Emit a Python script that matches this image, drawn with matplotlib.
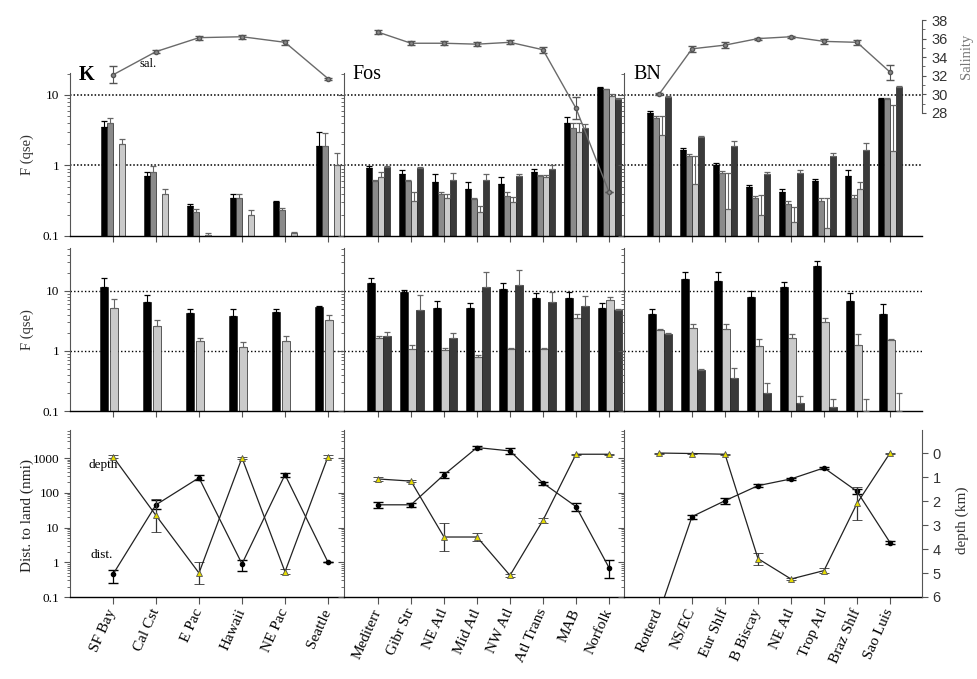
import matplotlib.pyplot as plt
import numpy as np
from matplotlib.ticker import FixedLocator, LogLocator, NullFormatter, NullLocator

plt.rcParams['font.family'] = ['Liberation Serif', 'DejaVu Serif']
plt.rcParams['font.size'] = 9

# ---- sites along x, one list per group
k_sites = ['SF Bay', 'Cal Cst', 'E Pac', 'Hawaii', 'NE Pac', 'Seattle']
fos_sites = ['Mediterr', 'Gibr Str', 'NE Atl', 'Mid Atl', 'NW Atl', 'Atl Trans', 'MAB', 'Norfolk']
bn_sites = ['Rotterd', 'NS/EC', 'Eur Shlf', 'B Biscay', 'NE Atl', 'Trop Atl', 'Braz Shlf', 'Sao Luis']
group_names = ['K', 'Fos', 'BN']

# ---- top row, F (qse), one inner list per fraction (upper error bars separately)
k_top = [[3.5, 0.70, 0.27, 0.34, 0.30, 1.9],
         [4.0, 0.80, 0.22, 0.35, 0.23, 1.9],
         [2.0, 0.39, 0.105, 0.20, 0.11, 1.0]]
k_top_err = [[0.7, 0.12, 0.01, 0.06, 0.01, 1.1],
             [0.7, 0.17, 0.02, 0.05, 0.02, 1.0],
             [0.4, 0.08, 0.005, 0.03, 0.005, 0.5]]
fos_top = [[0.93, 0.75, 0.58, 0.46, 0.54, 0.80, 4.0, 12.6],
           [0.60, 0.60, 0.39, 0.33, 0.37, 0.70, 3.4, 12.0],
           [0.68, 0.31, 0.35, 0.22, 0.30, 0.68, 3.0, 9.7],
           [0.94, 0.93, 0.63, 0.63, 0.70, 0.88, 3.4, 8.8]]
fos_top_err = [[0.05, 0.10, 0.17, 0.12, 0.14, 0.08, 0.9, 0.5],
               [0.03, 0.02, 0.03, 0.02, 0.05, 0.03, 0.6, 0.3],
               [0.12, 0.11, 0.04, 0.05, 0.06, 0.05, 1.0, 0.5],
               [0.03, 0.03, 0.16, 0.12, 0.05, 0.12, 0.5, 0.3]]
bn_top = [[5.6, 1.68, 1.0, 0.49, 0.42, 0.60, 0.70, 8.8],
          [4.7, 1.35, 0.79, 0.34, 0.28, 0.31, 0.35, 8.8],
          [2.7, 0.54, 0.24, 0.20, 0.16, 0.13, 0.46, 1.6],
          [9.4, 2.5, 1.9, 0.75, 0.79, 1.38, 1.68, 13.0]]
bn_top_err = [[0.3, 0.10, 0.10, 0.04, 0.04, 0.05, 0.15, 0.3],
              [0.3, 0.10, 0.05, 0.03, 0.03, 0.03, 0.03, 0.3],
              [2.3, 0.80, 0.55, 0.18, 0.10, 0.21, 0.12, 5.6],
              [0.3, 0.10, 0.30, 0.06, 0.08, 0.10, 0.40, 0.5]]

# ---- middle row, F (qse)
k_mid = [[11.8, 6.6, 4.3, 3.8, 4.4, 5.4],
         [5.2, 2.6, 1.47, 1.17, 1.47, 3.3]]
k_mid_err = [[4.9, 2.0, 0.7, 1.2, 0.6, 0.2],
             [2.2, 0.7, 0.18, 0.23, 0.33, 0.7]]
fos_mid = [[13.5, 9.6, 5.2, 5.2, 10.8, 7.6, 7.6, 5.2],
           [1.65, 1.08, 1.04, 0.80, 1.08, 1.1, 3.5, 7.0],
           [1.8, 4.8, 1.65, 11.6, 12.6, 6.6, 5.6, 4.8]]
fos_mid_err = [[3.0, 0.7, 1.6, 1.1, 2.8, 1.6, 2.0, 1.1],
               [0.1, 0.2, 0.1, 0.05, 0.05, 0.03, 0.6, 0.9],
               [0.3, 3.8, 0.35, 9.4, 9.4, 3.0, 2.7, 0.3]]
bn_mid = [[4.1, 15.8, 14.7, 8.0, 11.6, 26.0, 6.8, 4.1],
          [2.2, 2.4, 2.3, 1.2, 1.65, 3.05, 1.25, 1.5],
          [1.9, 0.48, 0.36, 0.20, 0.135, 0.117, 0.1, 0.1]]
bn_mid_err = [[0.9, 4.9, 6.3, 2.0, 2.5, 5.6, 2.4, 2.0],
              [0.1, 0.4, 0.5, 0.4, 0.3, 0.45, 0.65, 0.1],
              [0.1, 0.03, 0.16, 0.09, 0.045, 0.043, 0.06, 0.1]]

# ---- salinity
k_sal = [32.1, 34.6, 36.1, 36.2, 35.6, 31.7]
k_sal_err = [0.9, 0.2, 0.2, 0.2, 0.3, 0.1]
fos_sal = [36.7, 35.5, 35.5, 35.4, 35.6, 34.8, 28.5, 19.5]
fos_sal_err = [0.2, 0.2, 0.2, 0.2, 0.2, 0.3, 1.2, 0.0]
bn_sal = [30.0, 34.9, 35.3, 36.0, 36.2, 35.7, 35.6, 32.4]
bn_sal_err = [0.1, 0.3, 0.3, 0.1, 0.1, 0.3, 0.3, 0.8]

# ---- bottom row: distance to land (nmi) and depth (km)
k_dist = [0.45, 45, 270, 0.9, 330, 1.0]
k_dist_err = [[0.2, 10, 40, 0.35, 40, 0], [0.15, 15, 60, 0.3, 50, 0]]
k_depth = [0.15, 2.6, 5.0, 0.2, 4.95, 0.15]
k_depth_err = [0.05, 0.7, 0.45, 0.05, 0.1, 0.05]
fos_dist = [45, 45, 330, 2000, 1600, 190, 40, 0.7]
fos_dist_err = [[8, 5, 60, 200, 300, 20, 10, 0.35], [8, 5, 60, 200, 300, 20, 10, 0.45]]
fos_depth = [1.08, 1.17, 3.5, 3.5, 5.1, 2.8, 0.05, 0.05]
fos_depth_err = [0.1, 0.05, 0.6, 0.15, 0.05, 0.1, 0.02, 0.02]
bn_dist = [0.035, 20.6, 59, 160, 250, 520, 110, 3.7]
bn_dist_err = [[0, 3, 10, 15, 20, 40, 20, 0.4], [0, 3, 10, 15, 20, 40, 20, 0.4]]
bn_depth = [0.0, 0.02, 0.05, 4.4, 5.25, 4.9, 2.1, 0.0]
bn_depth_err = [0.02, 0.02, 0.02, 0.25, 0.05, 0.1, 0.7, 0.02]

# ---- layout (pixels of the 978x679 picture)
W, H = 978, 679
col_px = [(70, 344), (344, 624), (624, 922)]
first_px = [113, 378, 659]
step_px = [43, 33, 33]
row_top, row_mid, row_bot, row_sal = (73, 236), (248, 411), (430, 597), (20, 236)

BLACK, MID, LIGHT, DARK = '#000000', '#8a8a8a', '#cacaca', '#3a3a3a'
SPINE = '#555555'


def rect(cols, rows):
    l, r = cols
    t, b = rows
    return [l / W, 1 - b / H, (r - l) / W, (b - t) / H]


def xlim_of(c):
    l, r = col_px[c]
    return ((l - first_px[c]) / step_px[c], (r - first_px[c]) / step_px[c])


def base_axes(fig, c, rows, ylim, log=True):
    ax = fig.add_axes(rect(col_px[c], rows))
    if log:
        ax.set_yscale('log')
    ax.set_xlim(*xlim_of(c))
    ax.set_ylim(*ylim)
    for s in ['top', 'right']:
        ax.spines[s].set_visible(False)
    ax.spines['left'].set_color(SPINE)
    ax.spines['left'].set_linewidth(0.8)
    ax.spines['bottom'].set_linewidth(1.0)
    ax.tick_params(axis='y', which='both', direction='out', color=SPINE, labelsize=9.5)
    ax.tick_params(axis='y', which='major', length=4)
    ax.tick_params(axis='y', which='minor', length=2)
    ax.tick_params(axis='x', direction='out', length=4, color=SPINE)
    return ax


def draw_bars(ax, c, series, errs, colors, offsets, width):
    x = np.arange(len(series[0]))
    for vals, err, col, off in zip(series, errs, colors, offsets):
        xs = x + off / step_px[c]
        ax.bar(xs, vals, width=width / step_px[c], color=col,
               edgecolor='#222222', linewidth=0.5, zorder=2)
        ecol = 'black' if col == BLACK else '#666666'
        ax.errorbar(xs, vals, yerr=[np.zeros(len(vals)), err], fmt='none',
                    ecolor=ecol, elinewidth=0.8, capsize=2.5, capthick=0.9, zorder=3)


def log_ticks(ax, c, major):
    ax.yaxis.set_major_locator(FixedLocator(major))
    ax.yaxis.set_minor_locator(LogLocator(base=10, subs=np.arange(2, 10)))
    ax.yaxis.set_minor_formatter(NullFormatter())
    if c == 0:
        ax.set_yticklabels([('%g' % v) for v in major])
    else:
        ax.set_yticklabels([])


fig = plt.figure(figsize=(W / 100, H / 100), dpi=100)

sites = [k_sites, fos_sites, bn_sites]
tops = [(k_top, k_top_err), (fos_top, fos_top_err), (bn_top, bn_top_err)]
mids = [(k_mid, k_mid_err), (fos_mid, fos_mid_err), (bn_mid, bn_mid_err)]
sals = [(k_sal, k_sal_err), (fos_sal, fos_sal_err), (bn_sal, bn_sal_err)]
bots = [(k_dist, k_dist_err, k_depth, k_depth_err),
        (fos_dist, fos_dist_err, fos_depth, fos_depth_err),
        (bn_dist, bn_dist_err, bn_depth, bn_depth_err)]

for c in range(3):
    n = len(sites[c])
    x = np.arange(n)

    # top row: bars
    ax = base_axes(fig, c, row_top, (0.1, 20.4))
    if c == 0:
        draw_bars(ax, c, tops[c][0], tops[c][1], [BLACK, MID, LIGHT], [-9, -3, 9], 6)
    else:
        draw_bars(ax, c, tops[c][0], tops[c][1], [BLACK, MID, LIGHT, DARK], [-9, -3, 3, 9], 6)
    log_ticks(ax, c, [0.1, 1, 10])
    ax.set_xticks(x)
    ax.set_xticklabels([])
    for lvl in (1, 10):
        ax.axhline(lvl, color='black', lw=1.1, ls=(0, (1, 1.3)), zorder=1)
    ax.text(0.03, 1.05, group_names[c], transform=ax.transAxes, va='top', ha='left',
            fontsize=14.5, fontweight='bold' if c == 0 else 'normal')
    if c == 0:
        ax.text(0.255, 1.02, 'sal.', transform=ax.transAxes, fontsize=9, va='bottom')

    # salinity line above the top row
    axs = fig.add_axes(rect(col_px[c], row_sal))
    axs.set_facecolor('none')
    axs.set_xlim(*xlim_of(c))
    axs.set_ylim(14.77, 38)
    for s in ['top', 'left', 'bottom', 'right']:
        axs.spines[s].set_visible(False)
    axs.xaxis.set_major_locator(NullLocator())
    axs.errorbar(x, sals[c][0], yerr=sals[c][1], color='#6a6a6a', lw=1.0, marker='o',
                 ms=3, mfc='#888888', mec='#555555', ecolor='#555555', elinewidth=0.8,
                 capsize=3, zorder=4)
    if c == 2:
        axs.spines['right'].set_visible(True)
        axs.spines['right'].set_bounds(28, 38)
        axs.spines['right'].set_color(SPINE)
        axs.yaxis.tick_right()
        axs.set_yticks(np.arange(28, 39, 2))
        axs.set_yticks(np.arange(29, 38, 2), minor=True)
        axs.tick_params(axis='y', which='both', direction='out', color=SPINE, length=3,
                        labelsize=10.5, labelfontfamily='Liberation Sans', labelcolor='#333333')
        axs.tick_params(axis='y', which='minor', length=2)
        axs.text(1.15, 0.83, 'Salinity', transform=axs.transAxes, rotation=90,
                 ha='center', va='center', color='#777777', fontsize=10.5)
    else:
        axs.yaxis.set_major_locator(NullLocator())

    # middle row: bars
    ax = base_axes(fig, c, row_mid, (0.1, 52))
    if c == 0:
        draw_bars(ax, c, mids[c][0], mids[c][1], [BLACK, LIGHT], [-8.5, 1], 8)
    else:
        draw_bars(ax, c, mids[c][0], mids[c][1], [BLACK, LIGHT, DARK], [-7, 1, 9], 7.5)
    log_ticks(ax, c, [0.1, 1, 10])
    ax.set_xticks(x)
    ax.set_xticklabels([])
    for lvl in (1, 10):
        ax.axhline(lvl, color='black', lw=1.0, ls=(0, (1, 1.6)), zorder=1)

    # bottom row: distance to land and depth
    dist, dist_err, depth, depth_err = bots[c]
    ax = base_axes(fig, c, row_bot, (0.1, 6400))
    log_ticks(ax, c, [0.1, 1, 10, 100, 1000])
    ax.errorbar(x, dist, yerr=dist_err, color='#222222', lw=0.9, marker='o', ms=3,
                mfc='black', mec='black', ecolor='black', elinewidth=0.9, capsize=3.5, zorder=3)
    ax.set_xticks(x)
    ax.set_xticklabels(sites[c], rotation=66, ha='right', va='center',
                       rotation_mode='anchor', fontsize=11)
    ax.tick_params(axis='x', length=5, pad=4)
    axd = ax.twinx()
    axd.set_xlim(*xlim_of(c))
    axd.set_ylim(6, -0.96)
    for s in ['top', 'left', 'bottom']:
        axd.spines[s].set_visible(False)
    axd.errorbar(x, depth, yerr=depth_err, color='#222222', lw=0.9, marker='^', ms=5,
                 mfc='#e6dc00', mec='#555555', mew=0.6, ecolor='#333333', elinewidth=0.9,
                 capsize=3.5, zorder=4)
    if c == 2:
        axd.spines['right'].set_color(SPINE)
        axd.set_yticks(range(0, 7))
        axd.tick_params(axis='y', direction='out', color=SPINE, length=4, labelsize=10.5,
                        labelfontfamily='Liberation Sans', labelcolor='#333333')
    else:
        axd.spines['right'].set_visible(False)
        axd.yaxis.set_major_locator(NullLocator())
    if c == 0:
        ax.text(0.066, 0.79, 'depth', transform=ax.transAxes, fontsize=9.5, va='center')
        ax.text(0.075, 0.25, 'dist.', transform=ax.transAxes, fontsize=9.5, va='center')

# axis titles
fig.text(27 / W, 1 - 155 / H, 'F (qse)', rotation=90, ha='center', va='center',
         fontsize=10.5, color='#333333')
fig.text(27 / W, 1 - 330 / H, 'F (qse)', rotation=90, ha='center', va='center',
         fontsize=10.5, color='#333333')
fig.text(27 / W, 1 - 515 / H, 'Dist. to land (nmi)', rotation=90, ha='center', va='center',
         fontsize=11, color='#222222')
fig.text(962 / W, 1 - 520 / H, 'depth (km)', rotation=90, ha='center', va='center',
         fontsize=11, color='#333333')

fig.savefig('out.png', dpi=100)
